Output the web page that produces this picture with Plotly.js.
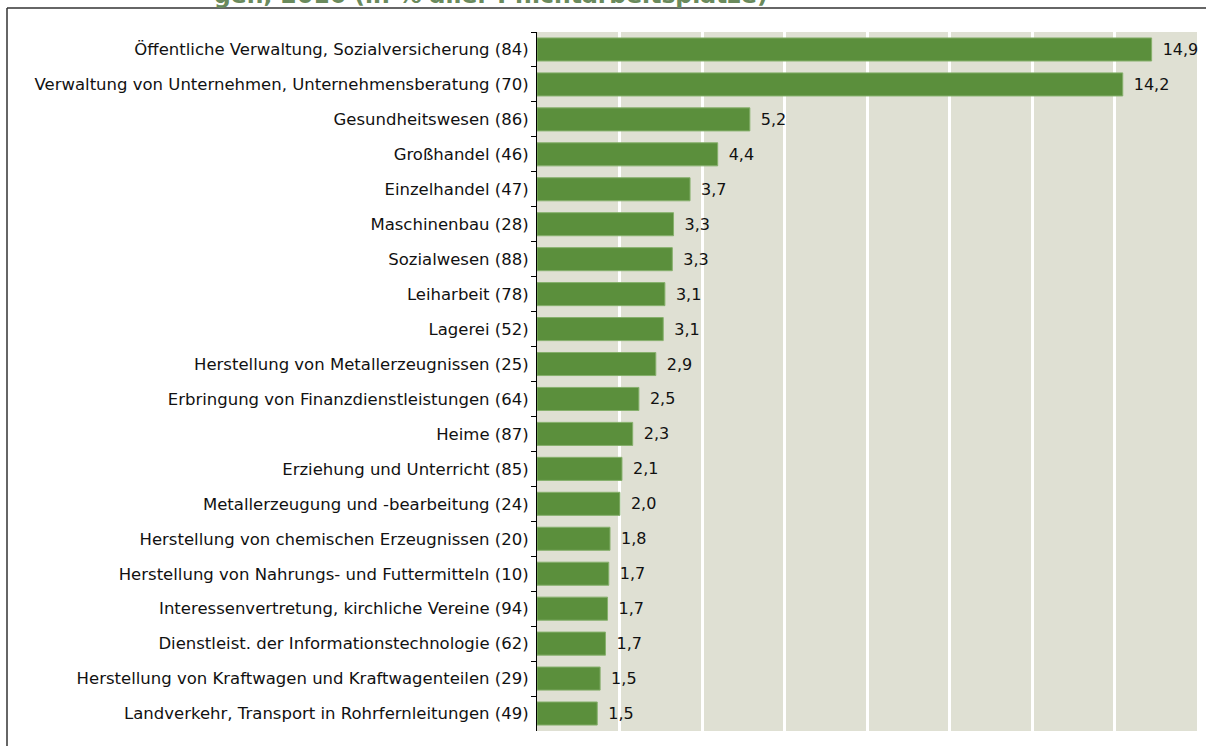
<!DOCTYPE html>
<html>
<head>
<meta charset="utf-8">
<script src="https://cdn.plot.ly/plotly-3.0.1.min.js"></script>
<style>
  html, body { margin: 0; padding: 0; background: #ffffff; }
  #chart { width: 1206px; height: 746px; }
</style>
</head>
<body>
<div id="chart"></div>
<script>
const categories = [
  "Öffentliche Verwaltung, Sozialversicherung (84)",
  "Verwaltung von Unternehmen, Unternehmensberatung (70)",
  "Gesundheitswesen (86)",
  "Großhandel (46)",
  "Einzelhandel (47)",
  "Maschinenbau (28)",
  "Sozialwesen (88)",
  "Leiharbeit (78)",
  "Lagerei (52)",
  "Herstellung von Metallerzeugnissen (25)",
  "Erbringung von Finanzdienstleistungen (64)",
  "Heime (87)",
  "Erziehung und Unterricht (85)",
  "Metallerzeugung und -bearbeitung (24)",
  "Herstellung von chemischen Erzeugnissen (20)",
  "Herstellung von Nahrungs- und Futtermitteln (10)",
  "Interessenvertretung, kirchliche Vereine (94)",
  "Dienstleist. der Informationstechnologie (62)",
  "Herstellung von Kraftwagen und Kraftwagenteilen (29)",
  "Landverkehr, Transport in Rohrfernleitungen (49)"
];
const shares = [14.9, 14.2, 5.16, 4.38, 3.71, 3.31, 3.28, 3.10, 3.06, 2.88,
                2.47, 2.32, 2.06, 2.01, 1.77, 1.74, 1.71, 1.66, 1.53, 1.46];
const titleText = "gen, 2016 (in % aller Pflichtarbeitsplätze)";

const FONT = "'DejaVu Sans', 'Liberation Sans', sans-serif";

const trace = {
  type: "bar",
  orientation: "h",
  y: categories,
  x: shares,
  marker: { color: "#5b8f3c", line: { color: "#86b06c", width: 1 } },
  texttemplate: "\u2002%{x:.1f}",
  textposition: "outside",
  constraintext: "none",
  cliponaxis: false,
  textfont: { family: FONT, size: 16, color: "#111111" },
  hoverinfo: "none"
};

const H = 699, T = 32;
function py(pix) { return (T + H - pix) / H; }
function px(pix) { return (pix - 537) / 660; }

const layout = {
  width: 1206, height: 746,
  margin: { l: 537, r: 9, t: 32, b: 15, pad: 0 },
  paper_bgcolor: "#ffffff",
  plot_bgcolor: "#dfe0d3",
  separators: ",.",
  showlegend: false,
  bargap: 0.34,
  font: { family: FONT, size: 16, color: "#111111" },
  xaxis: {
    range: [0, 16], dtick: 2, tick0: 0,
    showgrid: true, gridcolor: "#ffffff", gridwidth: 3,
    zeroline: false, showline: false, showticklabels: false, ticks: ""
  },
  yaxis: {
    type: "category", autorange: "reversed",
    showline: true, linecolor: "#000000", linewidth: 1,
    ticks: "outside", tickson: "boundaries", ticklen: 5, tickcolor: "#000000",
    showgrid: false, zeroline: false,
    tickfont: { family: FONT, size: 16.5, color: "#111111" },
    ticklabelstandoff: 4
  },
  shapes: [
    { type: "line", xref: "paper", yref: "paper",
      x0: px(7), x1: px(1210), y0: py(8), y1: py(8),
      line: { color: "#333333", width: 1.5 }, layer: "below" },
    { type: "line", xref: "paper", yref: "paper",
      x0: px(7), x1: px(7), y0: py(8), y1: py(760),
      line: { color: "#333333", width: 1.5 }, layer: "below" }
  ],
  annotations: [{
    text: "<b>" + titleText + "</b>",
    xref: "paper", yref: "paper",
    x: px(212), xanchor: "left",
    y: py(11), yanchor: "bottom",
    showarrow: false,
    font: { family: FONT, size: 23.5, color: "#6a8a5c" }
  }]
};

Plotly.newPlot("chart", [trace], layout, { staticPlot: true, displayModeBar: false });
</script>
</body>
</html>
